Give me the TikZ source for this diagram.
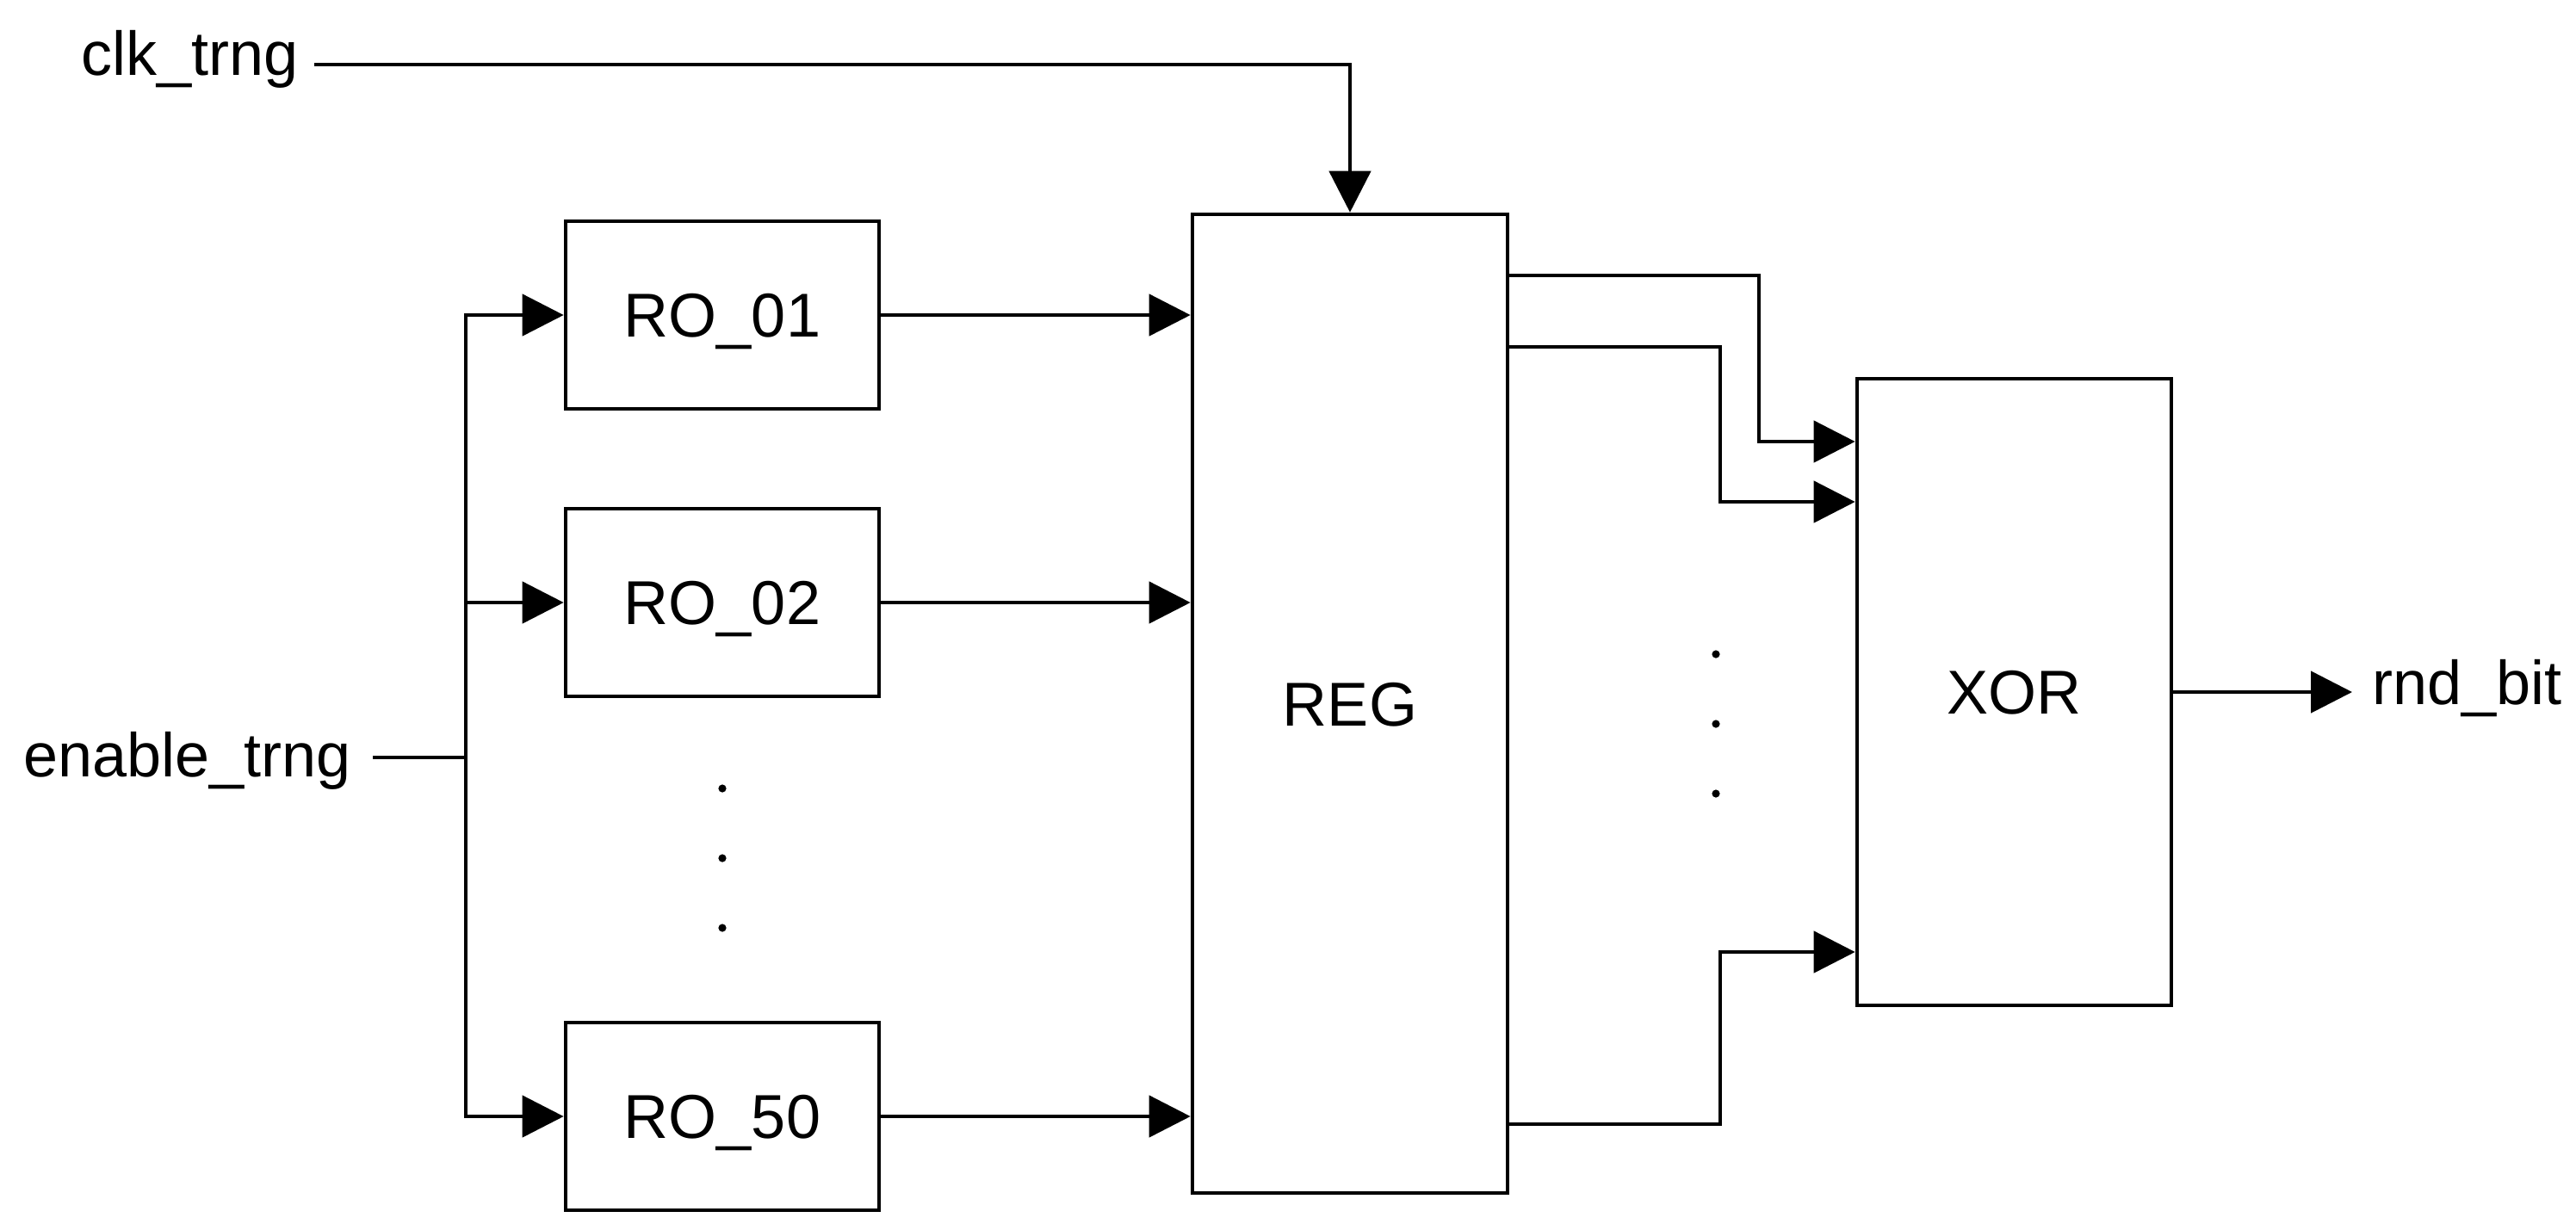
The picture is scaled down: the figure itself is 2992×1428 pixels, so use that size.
\documentclass[tikz,border=0pt]{standalone}
\usepackage{fontspec}
\setmainfont{Liberation Sans}
\usetikzlibrary{arrows.meta}
\begin{document}
\begin{tikzpicture}[x=0.25pt,y=-0.25pt,
  lw/.style={line width=1.15pt},
  blk/.style={draw, lw, rectangle, inner sep=0pt, font=\fontsize{18pt}{21.6pt}\selectfont, text height=12.9pt, text depth=0pt},
  lbl/.style={inner sep=0pt, font=\fontsize{18pt}{21.6pt}\selectfont},
  wire/.style={draw, lw},
  arr/.style={draw, lw, -{Triangle[length=12pt,width=12pt]}},
  dotn/.style={circle, fill, inner sep=0pt, minimum size=2.3pt}]
\useasboundingbox (0,0) rectangle (2992,1428);
% blocks
\node[blk, minimum width=91pt, minimum height=54.5pt] (ro1) at (839,366) {RO\_01};
\node[blk, minimum width=91pt, minimum height=54.5pt] (ro2) at (839,700) {RO\_02};
\node[blk, minimum width=91pt, minimum height=54.5pt] (ro50) at (839,1297) {RO\_50};
\node[blk, minimum width=91.5pt, minimum height=284.25pt] (reg) at (1568,817.5) {REG};
\node[blk, minimum width=91.25pt, minimum height=182pt] (xor) at (2339.5,804) {XOR};
% labels
\node[lbl, anchor=base west] (clk) at (94,87) {clk\_trng};
\node[lbl, anchor=base west] (en) at (27,902) {enable\_trng};
\node[lbl, anchor=base west] (rnd) at (2755,818) {rnd\_bit};
% dots
\node[dotn] (d1) at (839,916) {};
\node[dotn] (d2) at (839,997) {};
\node[dotn] (d3) at (839,1078) {};
\node[dotn] (d4) at (1993,760) {};
\node[dotn] (d5) at (1993,841) {};
\node[dotn] (d6) at (1993,922) {};
% coordinates
\coordinate (clkS) at (365,75);
\coordinate (enS) at (433,880);
\coordinate (bus) at (541,880);
\coordinate (rndT) at (2732,804);
% connectors
\draw[arr] (clkS) -| (reg.north);
\draw[wire] (enS) -- (bus);
\draw[arr] (bus) |- (ro1.west);
\draw[arr] (bus) |- (ro2.west);
\draw[arr] (bus) |- (ro50.west);
\draw[arr] (ro1.east) -- (ro1.east -| reg.west);
\draw[arr] (ro2.east) -- (ro2.east -| reg.west);
\draw[arr] (ro50.east) -- (ro50.east -| reg.west);
\draw[arr] (reg.east |- 0,320) -- (2043,320) -- (2043,513) -- (xor.west |- 0,513);
\draw[arr] (reg.east |- 0,403) -- (1998,403) -- (1998,583) -- (xor.west |- 0,583);
\draw[arr] (reg.east |- 0,1306) -- (1998,1306) -- (1998,1106) -- (xor.west |- 0,1106);
\draw[arr] (xor.east) -- (rndT);
\end{tikzpicture}
\end{document}
